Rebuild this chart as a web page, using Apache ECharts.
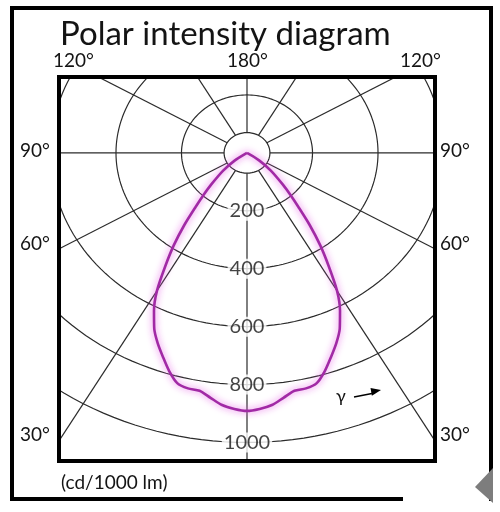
<!DOCTYPE html>
<html>
<head>
<meta charset="utf-8">
<script src="https://cdn.jsdelivr.net/npm/echarts@6/dist/echarts.min.js"></script>
<style>
html,body{margin:0;padding:0;background:#fff;}
#chart{width:500px;height:512px;}
</style>
</head>
<body>
<div id="chart"></div>
<script>
// ---- Data ----
// gamma angles (degrees, 0 = straight down) and luminous intensity (cd/1000 lm)
const gammaDeg  = [0, 2.5, 5, 7.5, 10, 12.5, 15, 17.5, 20, 22.5, 25, 27.5, 30, 32.5, 35, 37.5, 40, 42.5, 45, 50, 55, 60];
const intensity = [891, 885, 874, 853, 834, 833, 823, 790, 750, 712, 670, 615, 550, 465, 390, 315, 245, 195, 155, 95, 45, 0];
// intensity rings and their labels
const ringValues = [200, 400, 600, 800, 1000];
const innerRing = 70;
// radial grid lines (gamma, degrees)
const radialAngles = [0, 30, 60, 90, 120, 150, 180];
// angle tick labels
const topLabels = ['120°', '180°', '120°'];
const sideLabels = ['90°', '60°', '30°'];
const titleText = 'Polar intensity diagram';
const unitText = '(cd/1000 lm)';
const gammaText = 'γ';

// ---- helpers: polar (gamma, I) -> plane (x, y), gamma measured from downward ----
const rad = d => d * Math.PI / 180;
function toXY(g, r, side) { return [side * r * Math.sin(rad(g)), -r * Math.cos(rad(g))]; }

// curve: left half from apex to bottom, then right half back to apex
const curve = [];
for (let i = gammaDeg.length - 1; i >= 0; i--) curve.push(toXY(gammaDeg[i], intensity[i], -1));
for (let i = 1; i < gammaDeg.length; i++) curve.push(toXY(gammaDeg[i], intensity[i], 1));

function ring(r) {
  const pts = [];
  for (let a = 0; a <= 360; a += 2) pts.push([r * Math.sin(rad(a)), -r * Math.cos(rad(a))]);
  return pts;
}

const gridLine = { color: '#2b2b2b', width: 1.2 };
const series = [];
[innerRing].concat(ringValues).forEach(r => {
  series.push({ type: 'line', data: ring(r), showSymbol: false, silent: true, lineStyle: gridLine, z: 1, animation: false });
});
radialAngles.forEach(g => {
  [-1, 1].forEach(s => {
    if ((g === 0 || g === 180) && s === 1) return;
    series.push({ type: 'line', data: [toXY(g, innerRing, s), toXY(g, 2000, s)], showSymbol: false, silent: true, lineStyle: gridLine, z: 1, animation: false });
  });
});
// intensity curve
series.push({
  type: 'line', data: curve, showSymbol: false, smooth: 0.25, z: 5, animation: false,
  lineStyle: { color: '#a12aa5', width: 2.6, shadowBlur: 7, shadowColor: 'rgba(230,90,230,0.95)' }
});
// ring value labels on the vertical axis
series.push({
  type: 'scatter', data: ringValues.map(v => [0, -v]), symbolSize: 1, z: 10, animation: false,
  itemStyle: { color: 'rgba(0,0,0,0)' },
  label: {
    show: true, position: 'inside', formatter: p => String(-p.value[1]),
    fontFamily: 'Lato', fontSize: 20, color: '#141414', backgroundColor: '#fff', padding: [0, 2]
  }
});

function txt(text, x, y, size, align) {
  return { type: 'text', x: x, y: y, z: 100, style: { text: text, fill: '#141414', font: size + 'px Lato', align: align || 'left', verticalAlign: 'middle' } };
}
function seg(x1, y1, x2, y2, w) {
  return { type: 'line', z: 100, shape: { x1: x1, y1: y1, x2: x2, y2: y2 }, style: { stroke: '#000', lineWidth: w } };
}

const graphic = [
  seg(10, 8, 493, 8, 4), seg(12, 6, 12, 501, 4), seg(491, 6, 491, 501, 4), seg(10, 499, 403, 499, 4),
  { type: 'polygon', z: 101, shape: { points: [[493, 468], [475, 487], [493, 503]] }, style: { fill: '#7d7d7d' } },
  txt(titleText, 60, 34, 33),
  txt(topLabels[0], 53, 61, 19), txt(topLabels[1], 227, 61, 19), txt(topLabels[2], 400, 61, 19),
  txt(sideLabels[0], 20, 151, 19), txt(sideLabels[1], 20, 244, 19), txt(sideLabels[2], 20, 435, 19),
  txt(sideLabels[0], 440, 151, 19), txt(sideLabels[1], 440, 244, 19), txt(sideLabels[2], 440, 435, 19),
  txt(unitText, 61, 483, 19),
  txt(gammaText, 336, 396, 18),
  seg(354, 397, 372, 393.6, 1.5),
  { type: 'polygon', z: 100, shape: { points: [[381, 390], [371.9, 395.7], [370.5, 387.9]] }, style: { fill: '#000' } }
];

const chart = echarts.init(document.getElementById('chart'), null, { renderer: 'canvas' });
chart.setOption({
  backgroundColor: '#fff',
  animation: false,
  grid: { left: 59, top: 77, width: 376, height: 384, show: true, borderColor: '#000', borderWidth: 4, backgroundColor: 'transparent', z: 20 },
  xAxis: { type: 'value', min: -574, max: 574, show: false },
  yAxis: { type: 'value', min: -1064, max: 262, show: false },
  series: series,
  graphic: graphic
});
</script>
</body>
</html>
